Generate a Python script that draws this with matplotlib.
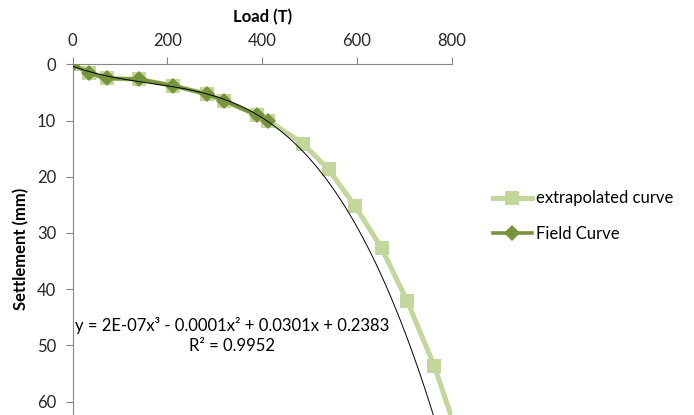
import numpy as np
import matplotlib.pyplot as plt

# Field load test readings (load in T, settlement in mm)
field_load = [0, 35, 72, 140, 212, 283, 319, 390, 412]
field_settle = [0, 1.6, 2.5, 2.65, 3.8, 5.3, 6.45, 9.1, 10.0]

# Extrapolated curve continues beyond the last field reading
extra_load = field_load + [486, 540, 596, 652, 706, 763, 818]
extra_settle = field_settle + [14.1, 18.7, 25.2, 32.7, 42.1, 53.6, 67.3]

eq_text = "y = 2E-07x³ - 0.0001x² + 0.0301x + 0.2383\nR² = 0.9952"

light_green = "#c3d69b"
dark_green = "#77933c"
axis_grey = "#868686"
fs = 12

plt.rcParams['font.family'] = ['Lato', 'DejaVu Sans']

fig = plt.figure(figsize=(6.94, 4.15), dpi=100)
ax = fig.add_axes([0.1048, 0.0, 0.546, 0.845])

ax.plot(extra_load, extra_settle, color=light_green, lw=3.6, marker='s',
        markersize=9.5, markeredgewidth=0, label='extrapolated curve', zorder=2)
ax.plot(field_load, field_settle, color=dark_green, lw=2.6, marker='D',
        markersize=8.5, markeredgewidth=0, label='Field Curve', zorder=3)

# 3rd order polynomial trendline through the field readings, forecast forward
coef = np.polyfit(field_load, field_settle, 3)
xs = np.linspace(0, 800, 300)
ax.plot(xs, np.polyval(coef, xs), color='black', lw=0.7, zorder=4)

ax.set_xlim(0, 800)
ax.set_ylim(62.4, 0)
ax.set_xticks([0, 200, 400, 600, 800])
ax.set_yticks([0, 10, 20, 30, 40, 50, 60])
ax.xaxis.tick_top()
ax.xaxis.set_label_position('top')
ax.tick_params(axis='both', colors=axis_grey, labelcolor='#262626', labelsize=fs,
               length=5, width=0.8, direction='out')
ax.tick_params(axis='x', pad=6)
ax.tick_params(axis='y', pad=7)
for s in ['right', 'bottom']:
    ax.spines[s].set_visible(False)
for s in ['left', 'top']:
    ax.spines[s].set_color(axis_grey)
    ax.spines[s].set_linewidth(0.8)

ax.set_xlabel('Load (T)', fontsize=fs, fontweight='bold', labelpad=8)
fig.text(0.030, 0.40, 'Settlement (mm)', rotation=90, fontsize=fs,
         fontweight='bold', ha='center', va='center')

ax.text(4.6, 48.2, eq_text, fontsize=fs, ha='left', va='center',
        multialignment='center', linespacing=1.3)

fig.legend(loc='upper left', bbox_to_anchor=(0.710, 0.541), frameon=False,
           fontsize=fs, handlelength=2.35, handletextpad=0.25, labelspacing=1.15,
           borderaxespad=0, borderpad=0)

fig.savefig('out.png', dpi=100)
